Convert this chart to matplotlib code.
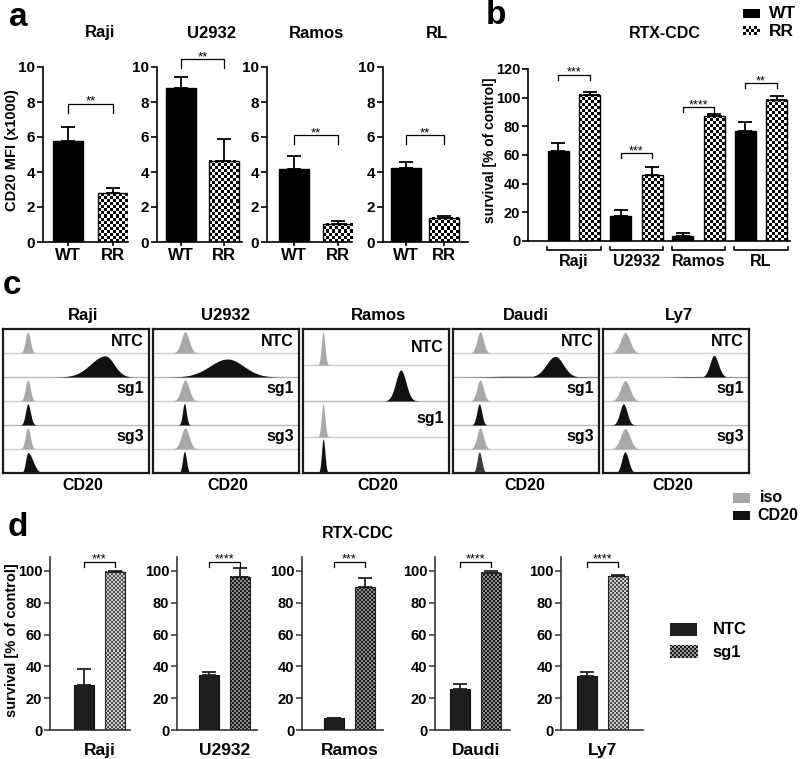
import numpy as np
import matplotlib
matplotlib.use('Agg')
import matplotlib.pyplot as plt
from matplotlib.colors import ListedColormap
from matplotlib.patches import Rectangle
import matplotlib.transforms as mtransforms

# ---------------- data ----------------
# panel a: CD20 MFI (x1000)
a_lines = ['Raji', 'U2932', 'Ramos', 'RL']
a_wt = [5.75, 8.82, 4.15, 4.25]
a_wt_err = [0.8, 0.63, 0.75, 0.3]
a_rr = [2.8, 4.63, 1.05, 1.4]
a_rr_err = [0.3, 1.24, 0.15, 0.08]
a_sig = ['**', '**', '**', '**']
a_sig_y = [7.9, 10.45, 6.1, 6.1]
a_groups = ['WT', 'RR']

# panel b: RTX-CDC survival
b_lines = ['Raji', 'U2932', 'Ramos', 'RL']
b_wt = [63.0, 17.4, 3.7, 77.0]
b_wt_err = [5.2, 4.2, 1.6, 5.8]
b_rr = [101.9, 46.0, 87.4, 98.4]
b_rr_err = [2.3, 5.4, 1.0, 2.8]
b_sig = ['***', '***', '****', '**']
b_sig_y = [115.8, 61.2, 93.3, 110.0]

# panel c: flow histograms (relative CD20 axis 0..1)
c_lines = ['Raji', 'U2932', 'Ramos', 'Daudi', 'Ly7']
c_guides = [['NTC', 'sg1', 'sg3'], ['NTC', 'sg1', 'sg3'], ['NTC', 'sg1'],
            ['NTC', 'sg1', 'sg3'], ['NTC', 'sg1', 'sg3']]
iso_center = [0.17, 0.22, 0.138, 0.186, 0.152]
iso_width = [0.017, 0.027, 0.012, 0.022, 0.032]
iso_height = [0.88, 0.88, 0.92, 0.88, 0.85]
cd20_center = [[0.70, 0.17, 0.17], [0.51, 0.215, 0.215], [0.67, 0.138],
               [0.70, 0.18, 0.18], [0.76, 0.14, 0.15]]
cd20_wl = [[0.10, 0.016, 0.015], [0.12, 0.013, 0.013], [0.035, 0.011],
           [0.06, 0.017, 0.015], [0.028, 0.025, 0.022]]
cd20_wr = [[0.06, 0.018, 0.035], [0.11, 0.013, 0.014], [0.035, 0.012],
           [0.055, 0.017, 0.017], [0.03, 0.025, 0.025]]
cd20_height = [[0.88, 0.88, 0.85], [0.75, 0.9, 0.9], [0.86, 0.95],
               [0.86, 0.88, 0.88], [0.9, 0.88, 0.88]]
ntc_tail_center = [0.5, 0.4, 0.5, 0.38, 0.6]
ntc_tail_width = [0.1, 0.1, 0.1, 0.14, 0.08]
ntc_tail_height = [0.0, 0.0, 0.0, 0.03, 0.02]

# panel d: RTX-CDC survival, NTC vs sg1
d_lines = ['Raji', 'U2932', 'Ramos', 'Daudi', 'Ly7']
d_ntc = [28.0, 34.6, 7.3, 25.6, 33.8]
d_ntc_err = [10.4, 2.1, 0.5, 3.3, 2.5]
d_sg1 = [99.5, 96.4, 89.7, 98.9, 96.8]
d_sg1_err = [0.7, 5.7, 6.0, 1.2, 0.9]
d_sig = ['***', '****', '***', '****', '****']
d_sig_y = [105.7, 105.7, 105.7, 105.7, 105.7]
d_groups = ['NTC', 'sg1']

# ---------------- layout helpers ----------------
W, H = 800, 759
plt.rcParams['font.family'] = ['Liberation Sans', 'DejaVu Sans']
plt.rcParams['font.weight'] = 'bold'
plt.rcParams['axes.linewidth'] = 1.2

fig = plt.figure(figsize=(W / 100, H / 100), dpi=100)


def add_ax(L, T, R, B):
    return fig.add_axes([L / W, 1 - B / H, (R - L) / W, (B - T) / H])


def ftext(x, y, s, **kw):
    kw.setdefault('fontweight', 'bold')
    fig.text(x / W, 1 - y / H, s, **kw)


def bold_ticks(ax):
    for lbl in ax.get_xticklabels() + ax.get_yticklabels():
        lbl.set_fontweight('bold')


def checker_img(ax, x0, y0, w, h, cell, c1, c2, z=2):
    p0 = ax.transData.transform((x0, y0))
    p1 = ax.transData.transform((x0 + w, y0 + h))
    nx = max(1, int(round(abs(p1[0] - p0[0]) / cell)))
    ny = max(1, int(round(abs(p1[1] - p0[1]) / cell)))
    arr = np.add.outer(np.arange(ny), np.arange(nx)) % 2
    ax.imshow(arr, extent=[x0, x0 + w, y0, y0 + h], cmap=ListedColormap([c1, c2]),
              vmin=0, vmax=1, aspect='auto', interpolation='nearest', zorder=z,
              origin='lower')


def checker_bars(ax, bars, cell, c1, c2):
    for p in bars:
        checker_img(ax, p.get_x(), p.get_y(), p.get_width(), p.get_height(), cell, c1, c2)


def legend_box(L, T, R, B, color=None, checker=None, cell=3):
    ax = add_ax(L, T, R, B)
    ax.set_xlim(0, 1)
    ax.set_ylim(0, 1)
    if checker is None:
        ax.add_patch(Rectangle((0, 0), 1, 1, facecolor=color, edgecolor='none'))
    else:
        checker_img(ax, 0, 0, 1, 1, cell, checker[0], checker[1])
    ax.set_axis_off()


def bracket(ax, x0, x1, y, tick, text, fs=9.5, lw=0.9):
    ax.plot([x0, x0, x1, x1], [y - tick, y, y, y - tick], color='black', lw=lw,
            clip_on=False, zorder=5)
    ax.annotate(text, xy=((x0 + x1) / 2, y), xytext=(0, 1.5), textcoords='offset points',
                ha='center', va='center', fontsize=fs, fontweight='normal',
                annotation_clip=False)


def style_axes(ax, color='black'):
    for s in ['top', 'right']:
        ax.spines[s].set_visible(False)
    for s in ['left', 'bottom']:
        ax.spines[s].set_color(color)


# ---------------- panel a ----------------
a_px = [(43, 128, 68, 113), (157, 242, 181, 224), (267, 352, 293.5, 337.5), (383, 468, 406, 444)]
a_title_x = [100, 212, 317, 437]
for i, (L, R, c0, c1) in enumerate(a_px):
    ax = add_ax(L, 67, R, 242)
    unit = c1 - c0
    ax.set_xlim((L - c0) / unit, (R - c0) / unit)
    ax.set_ylim(0, 10)
    style_axes(ax)
    bw = 30 / unit
    ax.bar([0], [a_wt[i]], width=bw, color='black', edgecolor='black', zorder=3)
    ax.errorbar([0], [a_wt[i]], yerr=[[0], [a_wt_err[i]]], fmt='none', ecolor='black',
                elinewidth=1.3, capsize=5.2, capthick=1.3, zorder=4)
    rr = ax.bar([1], [a_rr[i]], width=bw, facecolor='none', edgecolor='black', lw=1, zorder=3)
    checker_bars(ax, rr, 3, 'black', 'white')
    ax.errorbar([1], [a_rr[i]], yerr=[[0], [a_rr_err[i]]], fmt='none', ecolor='black',
                elinewidth=1.3, capsize=5.2, capthick=1.3, zorder=4)
    ax.set_yticks(range(0, 11, 2))
    ax.set_xticks([0, 1])
    ax.set_xticklabels(a_groups)
    ax.tick_params(axis='y', length=4, width=1.2, labelsize=11, pad=1.5)
    ax.tick_params(axis='x', length=3, width=1.2, labelsize=12, pad=1.5)
    bold_ticks(ax)
    bracket(ax, 0, 1, a_sig_y[i], 0.5, a_sig[i])
    ftext(a_title_x[i], 33, a_lines[i], ha='center', va='center', fontsize=12)

ftext(12, 150, 'CD20 MFI (x1000)', rotation=90, ha='center', va='center', fontsize=10.5)
ftext(18, 17, 'a', ha='center', va='center', fontsize=24)

# ---------------- panel b ----------------
axb = add_ax(528, 69, 790, 241)
gc0, gstep = 574, 62.3
axb.set_xlim((528 - gc0) / gstep, (790 - gc0) / gstep)
axb.set_ylim(0, 120)
style_axes(axb)
xg = np.arange(len(b_lines))
off = 15.8 / gstep
bwb = 21 / gstep
axb.bar(xg - off, b_wt, width=bwb, color='black', edgecolor='black', zorder=3)
axb.errorbar(xg - off, b_wt, yerr=[np.zeros(len(b_wt)), b_wt_err], fmt='none', ecolor='black',
             elinewidth=1.3, capsize=5, capthick=1.3, zorder=4)
rrb = axb.bar(xg + off, b_rr, width=bwb, facecolor='none', edgecolor='black', lw=1, zorder=3)
checker_bars(axb, rrb, 3, 'black', 'white')
axb.errorbar(xg + off, b_rr, yerr=[np.zeros(len(b_rr)), b_rr_err], fmt='none', ecolor='black',
             elinewidth=1.3, capsize=5, capthick=1.3, zorder=4)
axb.set_yticks(range(0, 121, 20))
axb.set_xticks([])
axb.tick_params(axis='y', length=4, width=1.2, labelsize=10.5, pad=1.5)
bold_ticks(axb)
for i in range(len(b_lines)):
    bracket(axb, i - off, i + off, b_sig_y[i], 3.5, b_sig[i], fs=9)
trb = mtransforms.blended_transform_factory(axb.transData, axb.transAxes)
for i, name in enumerate(b_lines):
    axb.plot([i - 0.43, i - 0.43, i + 0.43, i + 0.43], [-0.035, -0.053, -0.053, -0.035],
             color='black', lw=1.2, transform=trb, clip_on=False)
    axb.text(i, -0.118, name, transform=trb, ha='center', va='center', fontsize=11.5,
             fontweight='bold')
ftext(490, 150, 'survival [% of control]', rotation=90, ha='center', va='center', fontsize=10)
ftext(665, 33, 'RTX-CDC', ha='center', va='center', fontsize=11.5)
ftext(496, 16, 'b', ha='center', va='center', fontsize=24)
legend_box(743, 9, 760, 18, color='black')
legend_box(743, 26, 760, 35, checker=('black', 'white'), cell=3)
ftext(769, 13, 'WT', ha='left', va='center', fontsize=12.5)
ftext(769, 31, 'RR', ha='left', va='center', fontsize=12.5)

# ---------------- panel c ----------------
c_left = [3, 153, 303, 453, 603]
c_title_x = [83, 225, 378, 526, 679]
c_label_x = [83, 228, 378, 525, 673]
xs = np.linspace(0, 1, 800)


def peak(x, c, wl, wr):
    return np.where(x < c, np.exp(-0.5 * ((x - c) / wl) ** 2), np.exp(-0.5 * ((x - c) / wr) ** 2))


for i, name in enumerate(c_lines):
    ax = add_ax(c_left[i], 329, c_left[i] + 146, 473)
    guides = c_guides[i]
    nrows = 2 * len(guides)
    ax.set_xlim(0, 1)
    ax.set_ylim(0, nrows)
    ax.set_xticks([])
    ax.set_yticks([])
    for s in ax.spines.values():
        s.set_linewidth(1.6)
        s.set_color('#1a1a1a')
    for g, guide in enumerate(guides):
        base_iso = nrows - 1 - 2 * g
        base_cd = base_iso - 1
        yi = iso_height[i] * peak(xs, iso_center[i], iso_width[i], iso_width[i])
        ax.fill_between(xs, base_iso, base_iso + yi, color='#a8a8a8', lw=0, zorder=2)
        yc = cd20_height[i][g] * peak(xs, cd20_center[i][g], cd20_wl[i][g], cd20_wr[i][g])
        if g == 0:
            yc = np.maximum(yc, ntc_tail_height[i] *
                            peak(xs, ntc_tail_center[i], ntc_tail_width[i], ntc_tail_width[i] * 3))
        col = '#3c3c3c' if (name == 'Daudi' and guide == 'sg3') else '#111111'
        ax.fill_between(xs, base_cd, base_cd + yc, color=col, lw=0, zorder=2)
        ax.text(0.965, base_iso + 0.5, guide, ha='right', va='center', fontsize=11.5, zorder=3,
                fontweight='bold')
    for b in range(1, nrows):
        ax.axhline(b, color='#b8b8b8' if b % 2 == 0 else '#cfcfcf', lw=1.0, zorder=1)
    ftext(c_title_x[i], 315, name, ha='center', va='center', fontsize=12)
    ftext(c_label_x[i], 485, 'CD20', ha='center', va='center', fontsize=11.5)

ftext(12, 285, 'c', ha='center', va='center', fontsize=24)
legend_box(733, 493, 750, 503, color='#a8a8a8')
legend_box(733, 511, 750, 520, color='#111111')
ftext(760, 497, 'iso', ha='left', va='center', fontsize=11.5)
ftext(757, 516, 'CD20', ha='left', va='center', fontsize=11.5)

# ---------------- panel d ----------------
d_px = [(50, 130, 84, 115), (177, 257, 209, 240), (302, 383, 334, 365),
        (435, 510, 460.5, 491), (561, 643, 587, 617.5)]
d_check = [('#4a4a4a', '#cfcfcf'), ('#1a1a1a', '#8e8e8e'), ('#1a1a1a', '#8e8e8e'),
           ('#1a1a1a', '#8e8e8e'), ('#4a4a4a', '#cfcfcf')]
dcol = '#333333'
for i, (L, R, c0, c1) in enumerate(d_px):
    ax = add_ax(L, 730 - 1.59 * 109, R, 730)
    unit = c1 - c0
    ax.set_xlim((L - c0) / unit, (R - c0) / unit)
    ax.set_ylim(0, 109)
    style_axes(ax, dcol)
    bw = 20 / unit
    ax.bar([0], [d_ntc[i]], width=bw, color='#1e1e1e', edgecolor='#111111', lw=0.8, zorder=3)
    ax.errorbar([0], [d_ntc[i]], yerr=[[0], [d_ntc_err[i]]], fmt='none', ecolor='#222222',
                elinewidth=1.3, capsize=5, capthick=1.3, zorder=4)
    sb = ax.bar([1], [d_sg1[i]], width=bw, facecolor='none', edgecolor='#222222', lw=0.8, zorder=3)
    checker_bars(ax, sb, 2, d_check[i][0], d_check[i][1])
    ax.errorbar([1], [d_sg1[i]], yerr=[[0], [d_sg1_err[i]]], fmt='none', ecolor='#222222',
                elinewidth=1.3, capsize=5, capthick=1.3, zorder=4)
    ax.set_yticks(range(0, 101, 20))
    ax.set_xticks([])
    ax.tick_params(axis='y', length=4, width=1.1, labelsize=10.5, pad=1.5, color=dcol)
    bold_ticks(ax)
    bracket(ax, 0, 1, d_sig_y[i], 3.2, d_sig[i], fs=9)
    ax.text(0.5, -0.12, d_lines[i], transform=mtransforms.blended_transform_factory(ax.transData, ax.transAxes),
            ha='center', va='center', fontsize=12.5, fontweight='bold')

ftext(12, 640, 'survival [% of control]', rotation=90, ha='center', va='center', fontsize=10.5)
ftext(358, 533, 'RTX-CDC', ha='center', va='center', fontsize=11.5)
ftext(18, 527, 'd', ha='center', va='center', fontsize=24)
legend_box(670, 623, 697, 636, color='#1e1e1e')
legend_box(670, 645, 697, 658, checker=('#1a1a1a', '#9a9a9a'), cell=2)
ftext(713, 630, 'NTC', ha='left', va='center', fontsize=12)
ftext(712, 652, 'sg1', ha='left', va='center', fontsize=12)

fig.savefig('out.png', dpi=100)
